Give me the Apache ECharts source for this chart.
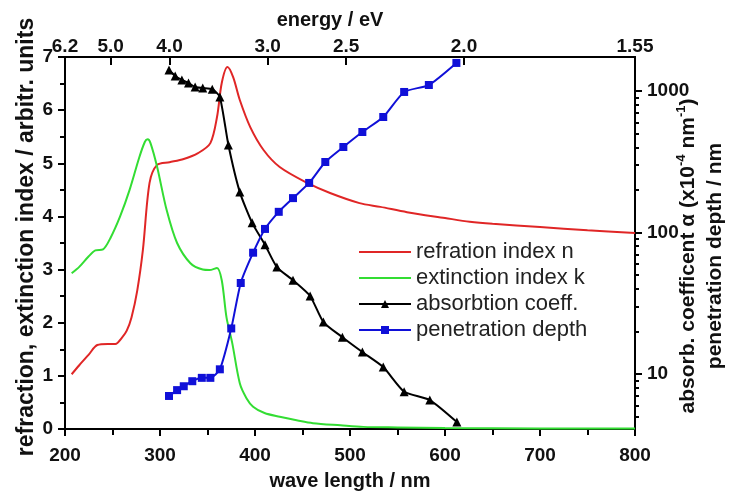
<!DOCTYPE html>
<html>
<head>
<meta charset="utf-8">
<script src="https://cdn.jsdelivr.net/npm/echarts@6/dist/echarts.min.js"></script>
<style>
  html, body { margin: 0; padding: 0; background: #fff; }
  #chart { width: 730px; height: 493px; }
</style>
</head>
<body>
<div id="chart"></div>
<script>
// refraction index n (left axis)
const nWave = [207, 215, 225, 234, 245, 253, 260, 265, 270, 276, 282, 289, 297, 310, 325, 340, 353, 360, 365, 371, 377, 384, 395, 409, 426, 455, 479, 510, 532, 560, 600, 626, 650, 700, 750, 800];
const nVals = [1.03, 1.2, 1.4, 1.58, 1.6, 1.6, 1.72, 1.85, 2.1, 2.6, 3.37, 4.63, 4.97, 5.02, 5.08, 5.19, 5.38, 5.87, 6.51, 6.81, 6.62, 6.19, 5.68, 5.25, 4.93, 4.63, 4.44, 4.25, 4.18, 4.08, 3.97, 3.9, 3.86, 3.8, 3.74, 3.69];
// extinction index k (left axis)
const kWave = [207, 215, 225, 232, 240, 248, 258, 268, 278, 284, 287, 290, 297, 307, 318, 332, 345, 352, 360, 365, 370, 376, 384, 391, 398, 410, 426, 445, 461, 490, 514, 550, 600, 700, 800];
const kVals = [2.93, 3.05, 3.25, 3.36, 3.38, 3.6, 4.0, 4.5, 5.1, 5.4, 5.45, 5.38, 4.93, 4.12, 3.5, 3.12, 3.0, 2.99, 3.03, 2.8, 2.1, 1.62, 0.86, 0.58, 0.42, 0.3, 0.23, 0.16, 0.11, 0.07, 0.04, 0.03, 0.02, 0.01, 0.01];
// absorption coefficient (right log axis)
const aWave = [309.5, 316, 323, 330, 337, 345, 355, 363, 372, 384, 397, 410.5, 423, 440, 458, 472, 492, 513, 535, 557, 584, 612.5];
const aVals = [1406, 1277, 1196, 1139, 1067, 1050, 1030, 907, 415, 193, 117, 82, 57, 46, 35.6, 23.3, 18.2, 14.3, 11.2, 7.5, 6.55, 4.58];
// penetration depth (right log axis)
const dWave = [309.5, 318, 325, 334, 344, 353, 363, 375, 385, 398, 410.5, 425, 440, 457, 474, 493, 513, 535, 557, 583, 612];
const dVals = [7.0, 7.7, 8.2, 8.9, 9.4, 9.4, 10.8, 21, 44, 72, 106, 140, 175, 224, 315, 402, 513, 655, 984, 1102, 1578];

// top axis: photon energy ticks (eV)
const energyTicks = [6.2, 5.0, 4.0, 3.0, 2.5, 2.0, 1.55];
const energyLabels = ['6.2', '5.0', '4.0', '3.0', '2.5', '2.0', '1.55'];
const energyPos = energyTicks.map(e => 1240 / e);

// right axis tick labels and minor ticks
const rightLabels = [10, 100, 1000];
const rightMinor = [5, 6, 7, 8, 9, 20, 30, 40, 50, 60, 70, 80, 90, 200, 300, 400, 500, 600, 700, 800, 900];
const rightMin = 4.09, rightMax = 1738;

const pairs = (xs, ys) => xs.map((x, i) => [x, ys[i]]);

const font = 'Liberation Sans, Arial, sans-serif';
const labelStyle = { color: '#111', fontFamily: font, fontWeight: 'bold', fontSize: 19 };
const lineStyle = { color: '#000', width: 2 };

const chart = echarts.init(document.getElementById('chart'));
const option = {
  animation: false,
  backgroundColor: '#fff',
  grid: { left: 65, right: 95, top: 57, bottom: 64, outerBoundsMode: 'none', containLabel: false },
  legend: {
    orient: 'vertical',
    left: 358,
    top: 241,
    padding: 0,
    itemWidth: 52,
    itemHeight: 10,
    itemGap: 4,
    textStyle: { fontFamily: font, fontSize: 22, color: '#222' },
    data: [
      { name: 'refration index n', itemStyle: { opacity: 0 } },
      { name: 'extinction index k', itemStyle: { opacity: 0 } },
      'absorbtion coeff.',
      'penetration depth'
    ]
  },
  xAxis: [
    {
      type: 'value', min: 200, max: 800, interval: 100,
      name: 'wave length / nm', nameLocation: 'middle', nameGap: 42,
      nameMoveOverlap: false,
      nameTextStyle: { fontFamily: font, fontWeight: 'bold', fontSize: 20, color: '#111' },
      axisLine: { lineStyle: lineStyle },
      axisTick: { inside: false, length: 7, lineStyle: lineStyle },
      minorTick: { show: true, splitNumber: 2, length: 6, lineStyle: lineStyle },
      axisLabel: Object.assign({ margin: 17 }, labelStyle),
      splitLine: { show: false }
    },
    {
      type: 'value', min: 200, max: 800, position: 'top',
      name: 'energy / eV', nameLocation: 'middle', nameGap: 27,
      nameMoveOverlap: false,
      nameTextStyle: { fontFamily: font, fontWeight: 'bold', fontSize: 20, color: '#111', padding: [0, 40, 0, 0] },
      axisLine: { lineStyle: lineStyle },
      axisTick: { inside: true, length: 8, lineStyle: lineStyle, customValues: energyPos },
      axisLabel: Object.assign({
        margin: 1,
        customValues: energyPos,
        formatter: function (v) {
          let best = 0;
          energyPos.forEach((p, i) => { if (Math.abs(p - v) < Math.abs(energyPos[best] - v)) best = i; });
          return energyLabels[best];
        }
      }, labelStyle),
      splitLine: { show: false }
    }
  ],
  yAxis: [
    {
      type: 'value', min: 0, max: 7, interval: 1,
      name: 'refraction, extinction index / arbitr. units',
      nameLocation: 'middle', nameGap: 27, nameRotate: 90,
      nameMoveOverlap: false,
      nameTextStyle: { fontFamily: font, fontWeight: 'bold', fontSize: 23, color: '#111', padding: [0, 0, 0, 12] },
      axisLine: { show: true, lineStyle: lineStyle },
      axisTick: { inside: false, length: 7, lineStyle: lineStyle },
      minorTick: { show: true, splitNumber: 2, length: 5, lineStyle: lineStyle },
      axisLabel: Object.assign({ margin: 12 }, labelStyle),
      splitLine: { show: false }
    },
    {
      type: 'log', logBase: 10, min: rightMin, max: rightMax, position: 'right',
      name: '{t|absorb. coefficent α (x10}{s|-4}{t| nm}{s|-1}{t|)}\n{t|penetration depth / nm}',
      nameLocation: 'middle', nameGap: 40, nameRotate: 90,
      nameMoveOverlap: false,
      nameTextStyle: {
        fontFamily: font, fontWeight: 'bold', fontSize: 21, color: '#111', lineHeight: 27,
        padding: [0, 26, 0, 0],
        rich: {
          t: { fontFamily: font, fontWeight: 'bold', fontSize: 21, color: '#111', lineHeight: 27 },
          s: { fontFamily: font, fontWeight: 'bold', fontSize: 13, color: '#111', lineHeight: 27, verticalAlign: 'top', padding: [0, 0, 10, 0] }
        }
      },
      axisLine: { show: true, lineStyle: lineStyle },
      axisTick: { inside: false, length: 7, lineStyle: lineStyle, customValues: rightLabels },
      axisLabel: Object.assign({
        margin: 12,
        customValues: rightLabels,
        formatter: function (v) { return rightLabels.some(r => Math.abs(r - v) / r < 0.01) ? String(Math.round(v)) : ''; }
      }, labelStyle),
      splitLine: { show: false }
    },
    {
      // minor ticks of the log axis, drawn in log10 space
      type: 'value', min: Math.log10(rightMin), max: Math.log10(rightMax), position: 'right', offset: 0,
      axisLine: { show: true, lineStyle: lineStyle },
      axisTick: { show: true, inside: false, length: 4, lineStyle: lineStyle, customValues: rightMinor.map(v => Math.log10(v)) },
      axisLabel: { show: false },
      splitLine: { show: false }
    }
  ],
  series: [
    {
      name: 'refration index n', type: 'line', xAxisIndex: 0, yAxisIndex: 0,
      data: pairs(nWave, nVals), symbol: 'none', smooth: 0.3,
      lineStyle: { color: '#e02626', width: 2 }, itemStyle: { color: '#e02626' }
    },
    {
      name: 'extinction index k', type: 'line', xAxisIndex: 0, yAxisIndex: 0,
      data: pairs(kWave, kVals), symbol: 'none', smooth: 0.3,
      lineStyle: { color: '#33dd33', width: 2 }, itemStyle: { color: '#33dd33' }
    },
    {
      name: 'absorbtion coeff.', type: 'line', xAxisIndex: 0, yAxisIndex: 1,
      data: pairs(aWave, aVals), symbol: 'triangle', symbolSize: 9, smooth: 0.2,
      lineStyle: { color: '#000', width: 2 }, itemStyle: { color: '#000' }
    },
    {
      name: 'penetration depth', type: 'line', xAxisIndex: 0, yAxisIndex: 1,
      data: pairs(dWave, dVals), symbol: 'rect', symbolSize: 8, smooth: 0.2,
      lineStyle: { color: '#1010d8', width: 2 }, itemStyle: { color: '#1010d8' }
    }
  ]
};
chart.setOption(option);
</script>
</body>
</html>
